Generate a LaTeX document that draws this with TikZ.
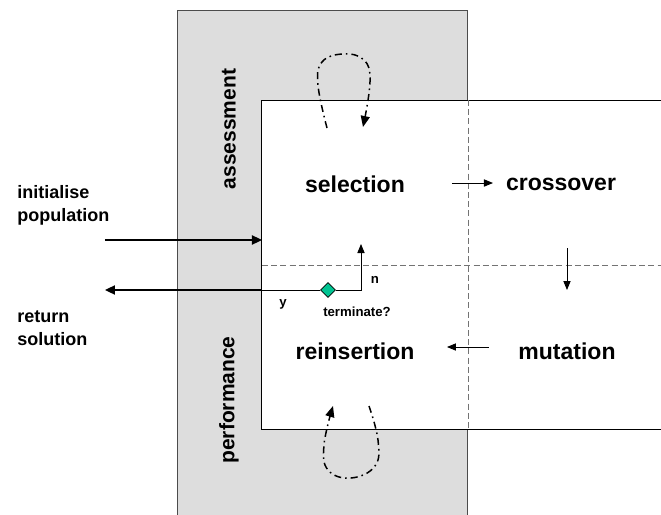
\documentclass[tikz,border=0pt]{standalone}
\usepackage{fontspec}
\setmainfont{Liberation Sans}
\usetikzlibrary{arrows.meta}
\usetikzlibrary{shapes.geometric}
\definecolor{panelgray}{RGB}{221,221,221}
\definecolor{termgreen}{RGB}{0,196,146}
\tikzset{
    stage/.style={font=\bfseries\fontsize{11.5}{14}\selectfont,inner sep=0pt},
    phase/.style={font=\bfseries\fontsize{10.5}{13}\selectfont,inner sep=0pt,rotate=90},
    io text/.style={font=\bfseries\fontsize{9}{11.5}\selectfont,inner sep=0pt,align=left,anchor=north west},
    tiny text/.style={font=\bfseries\fontsize{6.6}{8}\selectfont,inner sep=0pt},
    divider/.style={black!55,line width=0.4pt,dash pattern=on 3pt off 1.6pt},
    io arrow/.style={line width=0.8pt,-{Triangle[length=5pt,width=4.6pt]}},
    flow arrow/.style={line width=0.45pt,-{Triangle[length=4.5pt,width=3.6pt]}},
    loop arrow/.style={line width=0.75pt,dash pattern=on 3.5pt off 2pt on 0.8pt off 2pt,-{Triangle[length=5.5pt,width=4.5pt]}},
    decision/.style={diamond,draw,fill=termgreen,inner sep=0pt,minimum width=7.5pt,minimum height=7.5pt,line width=0.4pt},
}
\begin{document}
\begin{tikzpicture}[x=0.5pt,y=-0.5pt]
\useasboundingbox (0,0) rectangle (661,515);
% shaded frame
\fill[panelgray] (178,10) rectangle (468,515);
\draw[black!70,line width=0.5pt] (178,515) -- (178,10) -- (468,10) -- (468,100);
\draw[black!70,line width=0.5pt] (468,429) -- (468,515);
% inner area
\fill[white] (262,100) rectangle (661,429);
\draw[line width=0.5pt] (661,100) -- (262,100) -- (262,429) -- (661,429);
\draw[divider] (468,100) -- (468,429);
\draw[divider] (262,265) -- (661,265);
% phases
\node[phase] (assess) at (229,129) {assessment};
\node[phase] (perf) at (229,400) {performance};
% stages
\node[stage] (sel) at (355,184) {selection};
\node[stage] (cross) at (561,184) {crossover};
\node[stage] (reins) at (355,351) {reinsertion};
\node[stage] (mut) at (567,351) {mutation};
\coordinate (selout) at (452,183);
\coordinate (crossin) at (493,183);
\coordinate (crossout) at (567,248);
\coordinate (mutin) at (567,290);
\coordinate (mutout) at (489,347);
\coordinate (reinsin) at (447,347);
\draw[flow arrow] (selout) -- (crossin);
\draw[flow arrow] (crossout) -- (mutin);
\draw[flow arrow] (mutout) -- (reinsin);
% loops
\draw[loop arrow] plot[smooth,tension=0.7] coordinates {(327,128) (318,85) (322,62) (343,54) (364,60) (370,82) (363,127)};
\draw[loop arrow] plot[smooth,tension=0.7] coordinates {(369,406) (378,440) (375,466) (351,478) (328,470) (324,445) (333,406)};
% in and out
\node[io text] (init) at (17,185) {initialise\\population};
\node[io text] (ret) at (17,310) {return\\solution};
\coordinate (initstart) at (105,240);
\coordinate (initend) at (262,240);
\draw[io arrow] (initstart) -- (initend);
\node[decision] (term) at (328,290) {};
\coordinate (nturn) at (361,290);
\coordinate (nend) at (361,244);
\coordinate (retin) at (262,290);
\coordinate (retend) at (105,290);
\draw[flow arrow] (term) -- (nturn) -- (nend);
\draw[line width=0.45pt] (term) -- (retin);
\draw[io arrow] (retin) -- (retend);
\node[tiny text] (nlbl) at (375,280) {n};
\node[tiny text] (ylbl) at (283,304) {y};
\node[tiny text] (termlbl) at (357,312) {terminate?};
\end{tikzpicture}
\end{document}
